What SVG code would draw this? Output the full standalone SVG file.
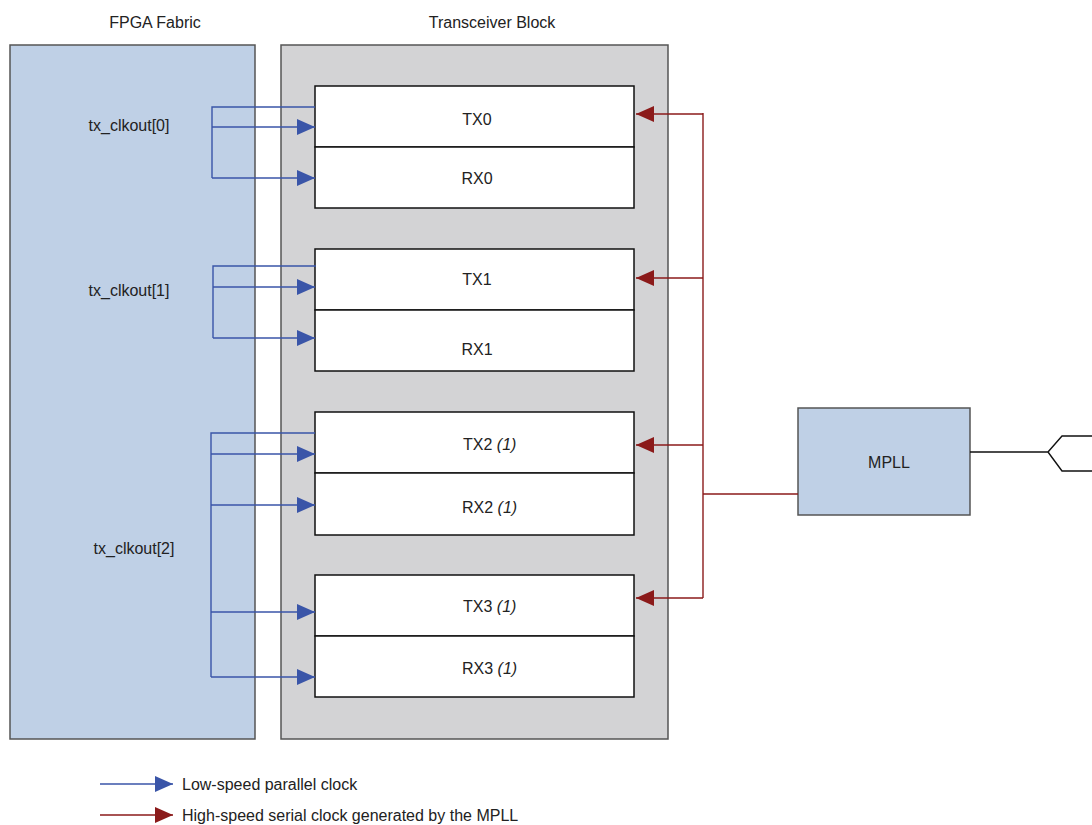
<svg xmlns="http://www.w3.org/2000/svg" width="1092" height="825" viewBox="0 0 1092 825">
<style>
text{font-family:"Liberation Sans",Arial,sans-serif;font-size:16px;fill:#222}
.c{text-anchor:middle}
.i{font-style:italic}
.blk{stroke:#555;stroke-width:1.5}
.ch{fill:#fff;stroke:#111;stroke-width:1.5}
.b{fill:none;stroke:#3a55a8;stroke-width:1.4}
.r{fill:none;stroke:#8b1a1a;stroke-width:1.4}
</style>
<defs>
<marker id="ab" markerUnits="userSpaceOnUse" markerWidth="18" markerHeight="16" refX="18" refY="8" orient="auto"><path d="M0,0 L18,8 L0,16 Z" fill="#3a55a8"/></marker>
<marker id="ar" markerUnits="userSpaceOnUse" markerWidth="18" markerHeight="16" refX="18" refY="8" orient="auto"><path d="M0,0 L18,8 L0,16 Z" fill="#8b1a1a"/></marker>
</defs>
<rect width="1092" height="825" fill="#fff"/>
<g id="fpga">
<rect x="10" y="45" width="245" height="694" fill="#bfd0e6" class="blk"/>
<text x="155" y="28" class="c">FPGA Fabric</text>
<text x="129" y="131" class="c">tx_clkout[0]</text>
<text x="129" y="296" class="c">tx_clkout[1]</text>
<text x="134" y="554" class="c">tx_clkout[2]</text>
</g>
<g id="transceiver">
<rect x="281" y="45" width="387" height="694" fill="#d3d3d5" class="blk"/>
<text x="492" y="28" class="c">Transceiver Block</text>
</g>
<g id="tx0"><rect x="315" y="86" width="319" height="61" class="ch"/><text x="477" y="125" class="c">TX0</text></g>
<g id="rx0"><rect x="315" y="147" width="319" height="61" class="ch"/><text x="477" y="184" class="c">RX0</text></g>
<g id="tx1"><rect x="315" y="249" width="319" height="61" class="ch"/><text x="477" y="285" class="c">TX1</text></g>
<g id="rx1"><rect x="315" y="310" width="319" height="61" class="ch"/><text x="477" y="355" class="c">RX1</text></g>
<g id="tx2"><rect x="315" y="412" width="319" height="61" class="ch"/><text x="463" y="450">TX2 <tspan class="i">(1)</tspan></text></g>
<g id="rx2"><rect x="315" y="473" width="319" height="62" class="ch"/><text x="462" y="513">RX2 <tspan class="i">(1)</tspan></text></g>
<g id="tx3"><rect x="315" y="575" width="319" height="61" class="ch"/><text x="463" y="612">TX3 <tspan class="i">(1)</tspan></text></g>
<g id="rx3"><rect x="315" y="636" width="319" height="61" class="ch"/><text x="462" y="674">RX3 <tspan class="i">(1)</tspan></text></g>
<g id="mpll">
<rect x="798" y="408" width="172" height="107" fill="#bfd0e6" class="blk"/>
<text x="889" y="468" class="c">MPLL</text>
</g>
<g id="connectors">
<path class="b" d="M315,107 H212 V178"/>
<path class="b" d="M212,127 H315" marker-end="url(#ab)"/>
<path class="b" d="M212,178 H315" marker-end="url(#ab)"/>
<path class="b" d="M316,266 H213 V338"/>
<path class="b" d="M213,287 H315" marker-end="url(#ab)"/>
<path class="b" d="M213,338 H315" marker-end="url(#ab)"/>
<path class="b" d="M315,433 H211 V677"/>
<path class="b" d="M211,454 H315" marker-end="url(#ab)"/>
<path class="b" d="M211,505 H315" marker-end="url(#ab)"/>
<path class="b" d="M211,612 H315" marker-end="url(#ab)"/>
<path class="b" d="M211,677 H315" marker-end="url(#ab)"/>
<path class="r" d="M703,113 V598"/>
<path class="r" d="M703,494 H798"/>
<path class="r" d="M703,114 H636" marker-end="url(#ar)"/>
<path class="r" d="M703,278 H636" marker-end="url(#ar)"/>
<path class="r" d="M703,445 H636" marker-end="url(#ar)"/>
<path class="r" d="M703,598 H636" marker-end="url(#ar)"/>
<path d="M970,452 H1048 L1062,436 H1092 M1048,452 L1062,471 H1092" fill="none" stroke="#111" stroke-width="1.4"/>
</g>
<g id="legend">
<path class="b" d="M100,784 H173" marker-end="url(#ab)"/>
<text x="182" y="790">Low-speed parallel clock</text>
<path class="r" d="M100,815 H173" marker-end="url(#ar)"/>
<text x="182" y="821">High-speed serial clock generated by the MPLL</text>
</g>
</svg>
